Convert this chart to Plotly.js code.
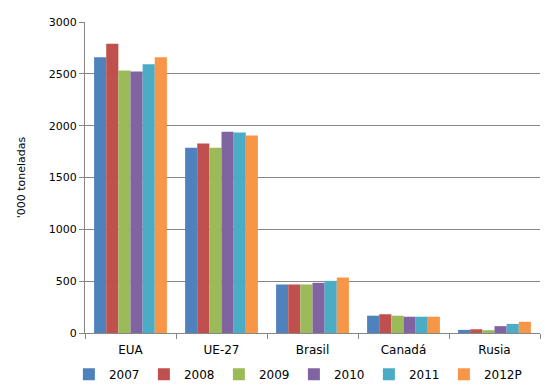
<!DOCTYPE html>
<html>
<head>
<meta charset="utf-8">
<script src="https://cdn.plot.ly/plotly-3.0.1.min.js"></script>
<style>html,body{margin:0;padding:0;background:#fff;}</style>
</head>
<body>
<div id="chart" style="width:560px;height:391px;"></div>
<script>
const categories = ["EUA", "UE-27", "Brasil", "Canadá", "Rusia"];
const seriesNames = ["2007", "2008", "2009", "2010", "2011", "2012P"];
const v2007 = [2660, 1786, 468, 167, 30];
const v2008 = [2790, 1827, 468, 181, 36];
const v2009 = [2532, 1786, 468, 167, 27];
const v2010 = [2522, 1942, 484, 157, 66];
const v2011 = [2593, 1933, 503, 157, 88];
const v2012P = [2660, 1904, 535, 157, 108];
const yTickVals = [0, 500, 1000, 1500, 2000, 2500, 3000];
const colors = ["#4F81BD", "#C0504D", "#9BBB59", "#8064A2", "#4BACC6", "#F79646"];

const allValues = [v2007, v2008, v2009, v2010, v2011, v2012P];
const traces = allValues.map((vals, i) => ({
  type: "bar",
  name: seriesNames[i],
  x: categories,
  y: vals,
  marker: { color: colors[i] },
  legend: i === allValues.length - 1 ? "legend2" : "legend",
  hoverinfo: "x+y+name"
}));

const legendCommon = {
  orientation: "h",
  xref: "container",
  yref: "container",
  xanchor: "left",
  y: 0.043,
  yanchor: "middle",
  font: { size: 12 },
  itemwidth: 30
};

const layout = {
  width: 560,
  height: 391,
  margin: { l: 85, r: 20, t: 22, b: 58 },
  paper_bgcolor: "#fff",
  plot_bgcolor: "#fff",
  font: { family: "DejaVu Sans, Verdana, sans-serif", size: 11, color: "#000" },
  barmode: "group",
  bargap: 0.2,
  bargroupgap: 0,
  xaxis: {
    type: "category",
    showline: true,
    linecolor: "#868686",
    linewidth: 1,
    ticks: "outside",
    tickson: "boundaries",
    ticklen: 5,
    tickcolor: "#868686",
    ticklabelstandoff: 6,
    showgrid: false,
    tickfont: { size: 12 }
  },
  yaxis: {
    range: [0, 3000],
    tickvals: yTickVals,
    showline: true,
    linecolor: "#868686",
    linewidth: 1,
    ticks: "outside",
    ticklen: 5,
    tickcolor: "#868686",
    showgrid: true,
    gridcolor: "#868686",
    gridwidth: 1,
    zeroline: false,
    tickfont: { size: 11 },
    title: { text: "'000 toneladas", font: { size: 11 }, standoff: 20 }
  },
  legend: Object.assign({}, legendCommon, {
    x: 0.123,
    entrywidth: 30,
    entrywidthmode: "pixels"
  }),
  legend2: Object.assign({}, legendCommon, {
    x: 0.123 + 375 / 560
  }),
  showlegend: true
};

Plotly.newPlot("chart", traces, layout, { displayModeBar: false, staticPlot: true });
</script>
</body>
</html>
